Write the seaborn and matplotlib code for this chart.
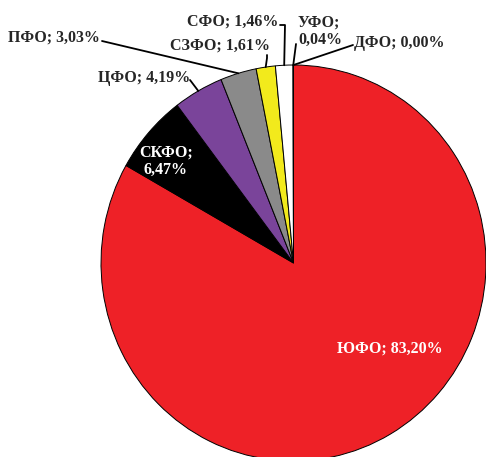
import numpy as np
import matplotlib
matplotlib.use("Agg")
import matplotlib.pyplot as plt
import seaborn as sns

# data
regions = ["ЮФО", "СКФО", "ЦФО", "ПФО", "СЗФО", "СФО", "УФО", "ДФО"]
shares = [83.20, 6.47, 4.19, 3.03, 1.61, 1.46, 0.04, 0.00]
colors = ["#ee2127", "#000000", "#7a449a", "#8a8a8a", "#f2ea1c", "#ffffff", "#ffffff", "#ffffff"]

sns.set_style("white")
plt.rcParams['font.family'] = ['Liberation Serif', 'DejaVu Serif']

fig = plt.figure(figsize=(4.86, 4.57), dpi=100)
ax = fig.add_axes([0, 0, 1, 1])

# pixel -> data helpers (pie centre 293.5,263 px, radii 192.5 x 198 px)
cx, cy, rx, ry = 293.5, 263, 192.5, 198
def px(x):
    return (x - cx) / rx
def py(y):
    return (cy - y) / ry

ax.pie(shares, colors=colors, startangle=90, counterclock=False, radius=1,
       wedgeprops=dict(edgecolor="black", linewidth=0.7))
ax.set_xlim(px(0), px(486))
ax.set_ylim(py(457), py(0))
ax.set_aspect("auto")
ax.axis("off")

# wedge edge points from data
cum = np.cumsum([0] + shares[:-1])
mid = [90 - 3.6 * (c + s / 2) for c, s in zip(cum, shares)]
edge = [(np.cos(np.radians(a)), np.sin(np.radians(a))) for a in mid]

fs = 11.5
lbl = [f"{n}; {v:.2f}%".replace(".", ",") for n, v in zip(regions, shares)]

# inner labels
ax.text(px(390), py(349), lbl[0], color="white", fontsize=fs, fontweight="bold",
        ha="center", va="center")
ax.text(px(166), py(161), lbl[1].replace("; ", ";\n"), color="white", fontsize=fs,
        fontweight="bold", ha="center", va="center", linespacing=1.1)

# outer labels
kw = dict(fontsize=fs, fontweight="bold", va="center")
ax.text(px(190), py(78), lbl[2], ha="right", **kw)
ax.text(px(100), py(38), lbl[3], ha="right", **kw)
ax.text(px(270), py(46), lbl[4], ha="right", **kw)
ax.text(px(278), py(22), lbl[5], ha="right", **kw)
ax.text(px(298), py(31), lbl[6].replace("; ", ";\n"), ha="left", linespacing=1.1, **kw)
ax.text(px(354), py(43), lbl[7], ha="left", **kw)

lw = 1.3
ax.plot([px(190), edge[2][0]], [py(80), edge[2][1]], color="black", lw=lw)
ax.plot([px(102), edge[3][0]], [py(41), edge[3][1]], color="black", lw=lw)
ax.plot([px(267), px(267), edge[4][0]], [py(55), py(58), edge[4][1]], color="black", lw=lw)
ax.plot([px(280), px(285), edge[5][0]], [py(25), py(25), edge[5][1]], color="black", lw=lw)
ax.plot([px(296), edge[6][0]], [py(44), edge[6][1]], color="black", lw=lw)
ax.plot([px(353), edge[7][0]], [py(45), edge[7][1]], color="black", lw=lw)

fig.savefig("out.png", dpi=100)
